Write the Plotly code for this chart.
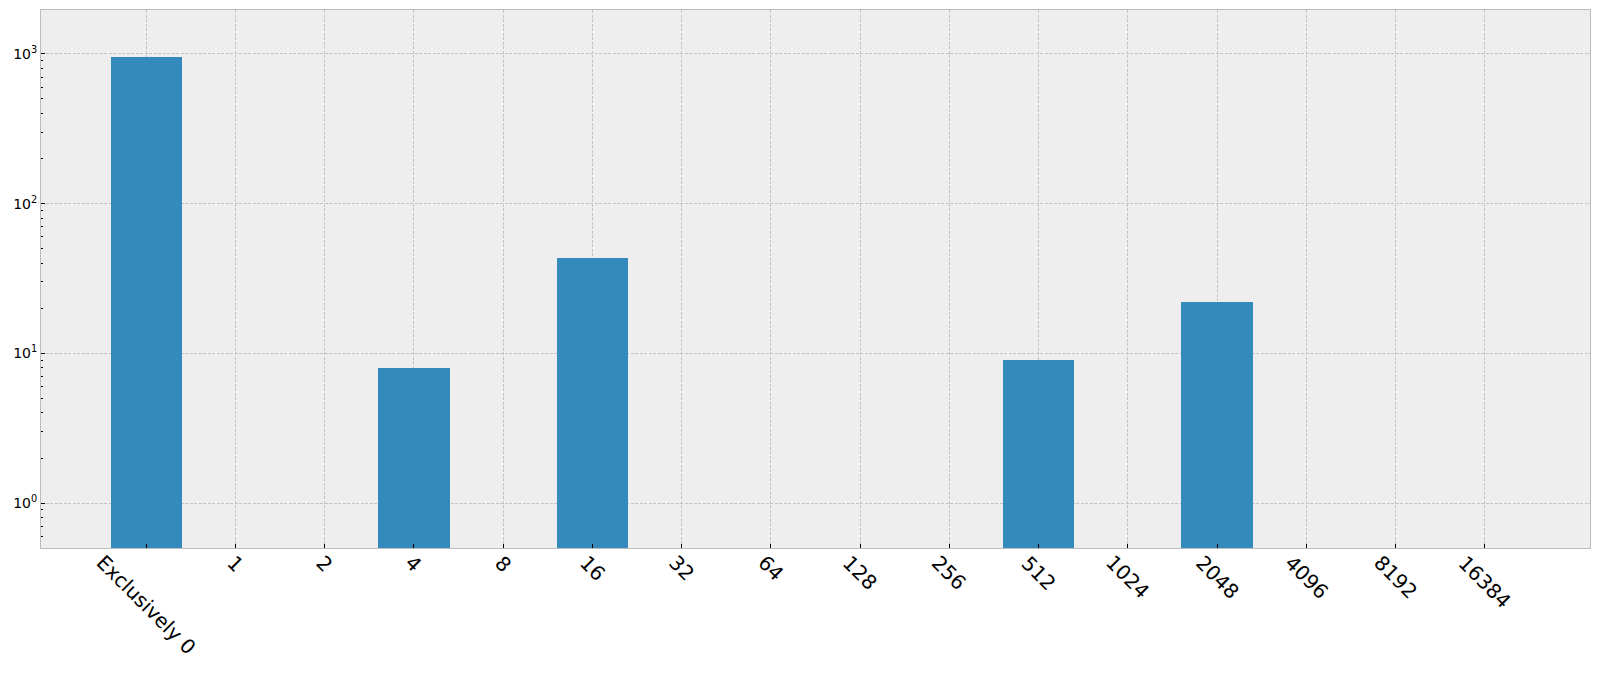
import plotly.graph_objects as go

categories = ["Exclusively 0", "1", "2", "4", "8", "16", "32", "64", "128", "256",
              "512", "1024", "2048", "4096", "8192", "16384"]
counts = [960, 0, 0, 8, 0, 43, 0, 0, 0, 0, 9, 0, 22, 0, 0, 0]

y_tick_vals = [1, 10, 100, 1000]
y_tick_text = ["10<sup>0</sup>", "10<sup>1</sup>", "10<sup>2</sup>", "10<sup>3</sup>"]

positions = list(range(len(categories)))

fig = go.Figure()
fig.add_trace(go.Bar(
    x=positions, y=counts, width=0.8,
    marker=dict(color="#348ABD", line=dict(width=0)),
    hoverinfo="skip",
))

# x tick labels rotated -45° and centred under the tick (matplotlib style)
for pos, cat in zip(positions, categories):
    fig.add_annotation(
        x=pos, xref="x", y=0, yref="paper",
        text=cat, showarrow=False, textangle=45,
        xanchor="center", yanchor="top", yshift=0,
        font=dict(size=20, family="DejaVu Sans", color="black"),
    )

fig.update_layout(
    width=1600, height=673,
    margin=dict(l=41, r=10, t=10, b=125, autoexpand=False),
    paper_bgcolor="white", plot_bgcolor="#EEEEEE",
    font=dict(family="DejaVu Sans", color="black"),
    showlegend=False,
    bargap=0,
)
grid = dict(showgrid=True, gridcolor="#C4C4C4", gridwidth=0.8, griddash="3px,1.5px")
fig.update_xaxes(
    type="linear", range=[-1.18, 16.18], automargin=False,
    tickvals=positions, showticklabels=False,
    ticks="inside", ticklen=4, tickcolor="black", tickwidth=1,
    showline=True, linecolor="#BCBCBC", linewidth=1, mirror=True,
    zeroline=False, **grid,
)
fig.update_yaxes(
    type="log", range=[-0.300, 3.293], automargin=False,
    tickvals=y_tick_vals, ticktext=y_tick_text,
    tickfont=dict(size=14, family="DejaVu Sans", color="black"),
    ticks="inside", ticklen=4, tickcolor="black", tickwidth=1,
    minor=dict(dtick="D1", ticks="inside", ticklen=2, tickcolor="black", showgrid=False),
    showline=True, linecolor="#BCBCBC", linewidth=1, mirror=True,
    zeroline=False, **grid,
)

fig.write_html(
    "out.html",
    config={"displayModeBar": False},
    post_script="document.body.style.margin='0';document.body.style.overflow='hidden';",
)
